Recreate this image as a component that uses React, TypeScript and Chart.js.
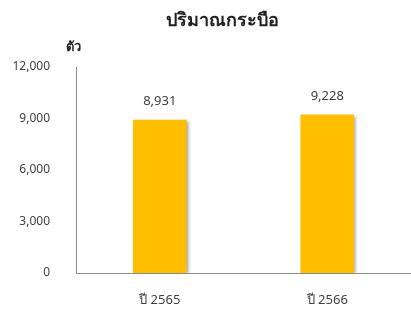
import React, { useEffect, useRef } from "react";
import { Chart, registerables } from "chart.js";

Chart.register(...registerables);

const categories = ["ปี 2565", "ปี 2566"];
const values = [8931, 9228];
const yTicks = [0, 3000, 6000, 9000, 12000];
const titleText = "ปริมาณกระบือ";
const unitText = "ตัว";

const FONT = "'Noto Sans', 'DejaVu Sans', sans-serif";

const decorPlugin = {
  id: "decor",
  beforeDatasetsDraw(chart: any) {
    const ctx = chart.ctx;
    ctx.save();
    ctx.shadowColor = "rgba(0,0,0,0.35)";
    ctx.shadowBlur = 3;
    ctx.shadowOffsetX = 2;
    ctx.shadowOffsetY = 1;
  },
  afterDatasetsDraw(chart: any) {
    const ctx = chart.ctx;
    ctx.restore();
    const meta = chart.getDatasetMeta(0);
    ctx.save();
    ctx.fillStyle = "#404040";
    ctx.font = `13px ${FONT}`;
    ctx.textAlign = "center";
    ctx.textBaseline = "middle";
    meta.data.forEach((bar: any, i: number) => {
      ctx.fillText(values[i].toLocaleString("en-US"), bar.x, bar.y - 18);
    });
    ctx.restore();
  },
  afterDraw(chart: any) {
    const ctx = chart.ctx;
    const area = chart.chartArea;
    ctx.save();
    ctx.fillStyle = "#222";
    ctx.textAlign = "center";
    ctx.textBaseline = "middle";
    ctx.font = `bold 18px ${FONT}`;
    ctx.fillText(titleText, area.left + (area.right - area.left) * 0.437, 21);
    ctx.font = `bold 13px ${FONT}`;
    ctx.fillText(unitText, area.left - 3, 47);
    ctx.restore();
  },
};

export default function App() {
  const ref = useRef<HTMLCanvasElement | null>(null);
  useEffect(() => {
    if (!ref.current) return;
    const chart = new Chart(ref.current, {
      type: "bar",
      data: {
        labels: categories,
        datasets: [
          {
            data: values,
            backgroundColor: "#FFBE00",
            barPercentage: 0.32,
            categoryPercentage: 1,
          },
        ],
      },
      options: {
        animation: false,
        responsive: false,
        maintainAspectRatio: false,
        layout: { padding: { top: 67, left: 14, right: 0, bottom: 4 } },
        plugins: { legend: { display: false }, tooltip: { enabled: false } },
        scales: {
          x: {
            afterFit(scale: any) {
              scale.height = 33;
            },
            grid: { display: false },
            border: { display: true, color: "#8c8c8c", width: 1 },
            ticks: { color: "#404040", font: { family: FONT, size: 13 }, padding: 11 },
          },
          y: {
            min: 0,
            max: 12000,
            afterBuildTicks(scale: any) {
              scale.ticks = yTicks.map((v) => ({ value: v }));
            },
            afterFit(scale: any) {
              scale.width = 62;
            },
            grid: { display: false },
            border: { display: true, color: "#8c8c8c", width: 1 },
            ticks: {
              color: "#404040",
              font: { family: FONT, size: 12 },
              padding: 18,
              callback: (v: any) => Number(v).toLocaleString("en-US"),
            },
          },
        },
      },
      plugins: [decorPlugin],
    });
    return () => chart.destroy();
  }, []);
  return (
    <div style={{ position: "absolute", left: 0, top: 0, width: 411, height: 310, background: "#fff" }}>
      <canvas ref={ref} width={411} height={310} style={{ width: 411, height: 310 }} />
    </div>
  );
}
